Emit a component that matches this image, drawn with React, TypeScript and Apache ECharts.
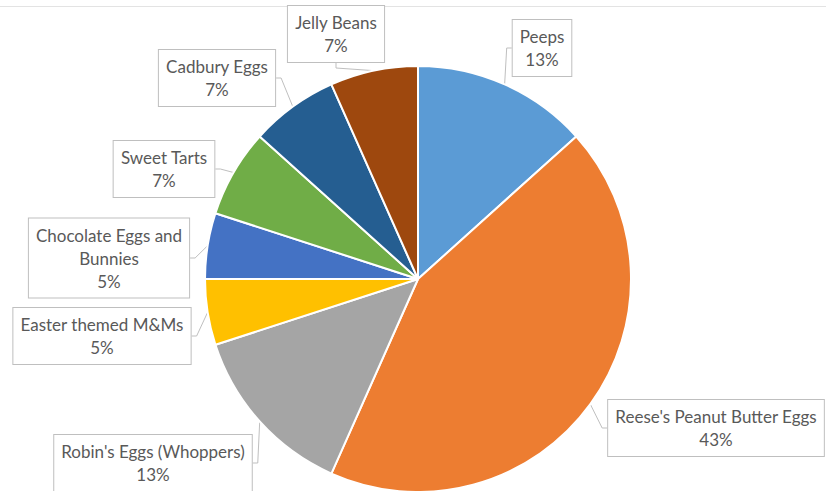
import React, { useEffect, useRef } from "react";
import * as echarts from "echarts";

const categories = [
  "Peeps",
  "Reese's Peanut Butter Eggs",
  "Robin's Eggs (Whoppers)",
  "Easter themed M&Ms",
  "Chocolate Eggs and\nBunnies",
  "Sweet Tarts",
  "Cadbury Eggs",
  "Jelly Beans",
];
const values = [8, 26, 8, 3, 3, 4, 4, 4];
const colors = ["#5B9BD5", "#ED7D31", "#A5A5A5", "#FFC000", "#4472C4", "#70AD47", "#255E91", "#9E480E"];
// label box centres (layout only)
const labelCenters: [number, number][] = [
  [542, 48],
  [716, 428],
  [153, 463],
  [102, 336],
  [109, 258],
  [164, 169],
  [217, 78],
  [336, 34],
];

export default function App() {
  const ref = useRef<HTMLDivElement>(null);
  useEffect(() => {
    if (!ref.current) return;
    const chart = echarts.init(ref.current, undefined, { renderer: "svg" });
    const total = values.reduce((a, b) => a + b, 0);
    chart.setOption({
      animation: false,
      backgroundColor: "#ffffff",
      graphic: [
        {
          type: "line",
          shape: { x1: 0, y1: 6.5, x2: 826, y2: 6.5 },
          style: { stroke: "#e3e3e3", lineWidth: 1 },
          silent: true,
        },
      ],
      series: [
        {
          type: "pie",
          center: [418, 279],
          radius: 213,
          startAngle: 90,
          clockwise: true,
          avoidLabelOverlap: false,
          data: categories.map((name, i) => ({
            name,
            value: values[i],
            itemStyle: { color: colors[i] },
          })),
          itemStyle: { borderColor: "#ffffff", borderWidth: 2 },
          label: {
            show: true,
            position: "outside",
            formatter: (p: any) => `${p.name}\n${Math.round((p.value / total) * 100)}%`,
            fontFamily: "Lato",
            fontSize: 17,
            lineHeight: 23,
            color: "#595959",
            align: "center",
            backgroundColor: "#ffffff",
            borderColor: "#bfbfbf",
            borderWidth: 1,
            padding: [5, 7],
          },
          labelLine: {
            show: true,
            length: 5,
            length2: 5,
            lineStyle: { color: "#bfbfbf", width: 1 },
          },
          labelLayout: (params: any) => {
            const c = labelCenters[params.dataIndex];
            return { x: c[0], y: c[1], align: "center", verticalAlign: "middle" };
          },
        },
      ],
    });
    return () => chart.dispose();
  }, []);
  return (
    <div
      ref={ref}
      style={{ position: "fixed", left: 0, top: 0, width: 826, height: 491 }}
    />
  );
}
